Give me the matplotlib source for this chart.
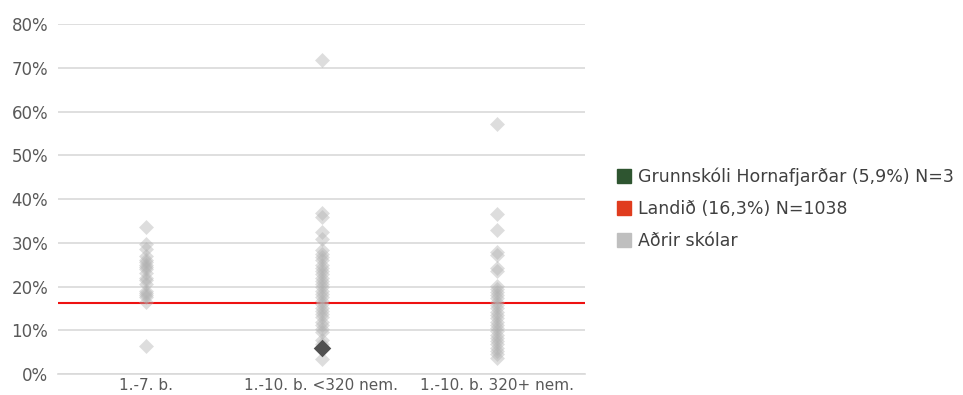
import matplotlib
matplotlib.use("Agg")
import matplotlib.pyplot as plt
from matplotlib.lines import Line2D
import numpy as np

plt.rcParams["font.family"] = ["DejaVu Sans"]

categories = ["1.-7. b.", "1.-10. b. <320 nem.", "1.-10. b. 320+ nem."]

# other schools, per category (%)
others_1 = [33.5, 29.8, 28.5, 27, 26, 25.5, 25, 24.5, 24, 23, 22, 21.5, 20.5,
            19, 18.5, 18, 17.5, 16.5, 6.5]
others_2 = [71.8, 36.8, 35.8, 32.5, 30.8, 28.3, 27.5, 26.8, 26, 25, 24.2, 23.5,
            22.8, 22, 21.2, 20.5, 19.8, 19, 18.2, 17.5, 16.8, 16, 15.2, 14.5,
            13.8, 13, 12, 11.2, 10.4, 9.5, 7.8, 6.8, 3.5]
others_3 = [57.2, 36.5, 33, 28, 27.2, 24.2, 23.5, 20.2, 19.5, 18.8, 18, 17.3,
            16.5, 15.8, 15, 14.2, 13.5, 12.8, 12, 11.2, 10.5, 9.8, 9, 8.2, 7.5,
            6.8, 6, 5.2, 4.5, 3.6]
others = [others_1, others_2, others_3]

school_cat = 1
school_val = 5.9
national_val = 16.3

legend_labels = ["Grunnskóli Hornafjarðar (5,9%) N=3",
                 "Landið (16,3%) N=1038",
                 "Aðrir skólar"]

fig = plt.figure(figsize=(9.63, 3.95), dpi=100)
ax = fig.add_axes([58 / 963, 21 / 395, 527 / 963, 350 / 395])

for i, vals in enumerate(others):
    ax.scatter(np.full(len(vals), i), vals, marker="D", s=58,
               color="#b0b0b0", alpha=0.42, linewidths=0, zorder=3)

ax.axhline(national_val, color="#ee1111", linewidth=1.5, zorder=2)
ax.scatter([school_cat], [school_val], marker="D", s=80, color="#505050",
           linewidths=0, zorder=4)

ax.set_xlim(-0.5, 2.5)
ax.set_ylim(0, 80)
ax.set_yticks(np.arange(0, 81, 10))
ax.set_yticklabels([f"{v}%" for v in range(0, 81, 10)])
ax.set_xticks(range(len(categories)))
ax.set_xticklabels(categories)
ax.tick_params(axis="y", length=0, pad=7, labelsize=12, labelcolor="#595959")
ax.tick_params(axis="x", length=0, pad=3, labelsize=11, labelcolor="#595959")
ax.grid(axis="y", color="#d9d9d9", linewidth=1.2, zorder=0)
for s in ["top", "right", "left"]:
    ax.spines[s].set_visible(False)
ax.spines["bottom"].set_color("#d9d9d9")
ax.spines["bottom"].set_linewidth(1.2)
ax.set_axisbelow(True)

handles = [Line2D([], [], marker="s", linestyle="none", markersize=9.5,
                  color=c) for c in ["#2e5530", "#e03c1e", "#bfbfbf"]]
fig.legend(handles, legend_labels, loc="upper left",
           bbox_to_anchor=(601 / 963, 1 - 152 / 395), frameon=False,
           fontsize=12.5, labelcolor="#404040", handlelength=0.8,
           handletextpad=0.45, labelspacing=0.8)

fig.savefig("out.png", dpi=100)
